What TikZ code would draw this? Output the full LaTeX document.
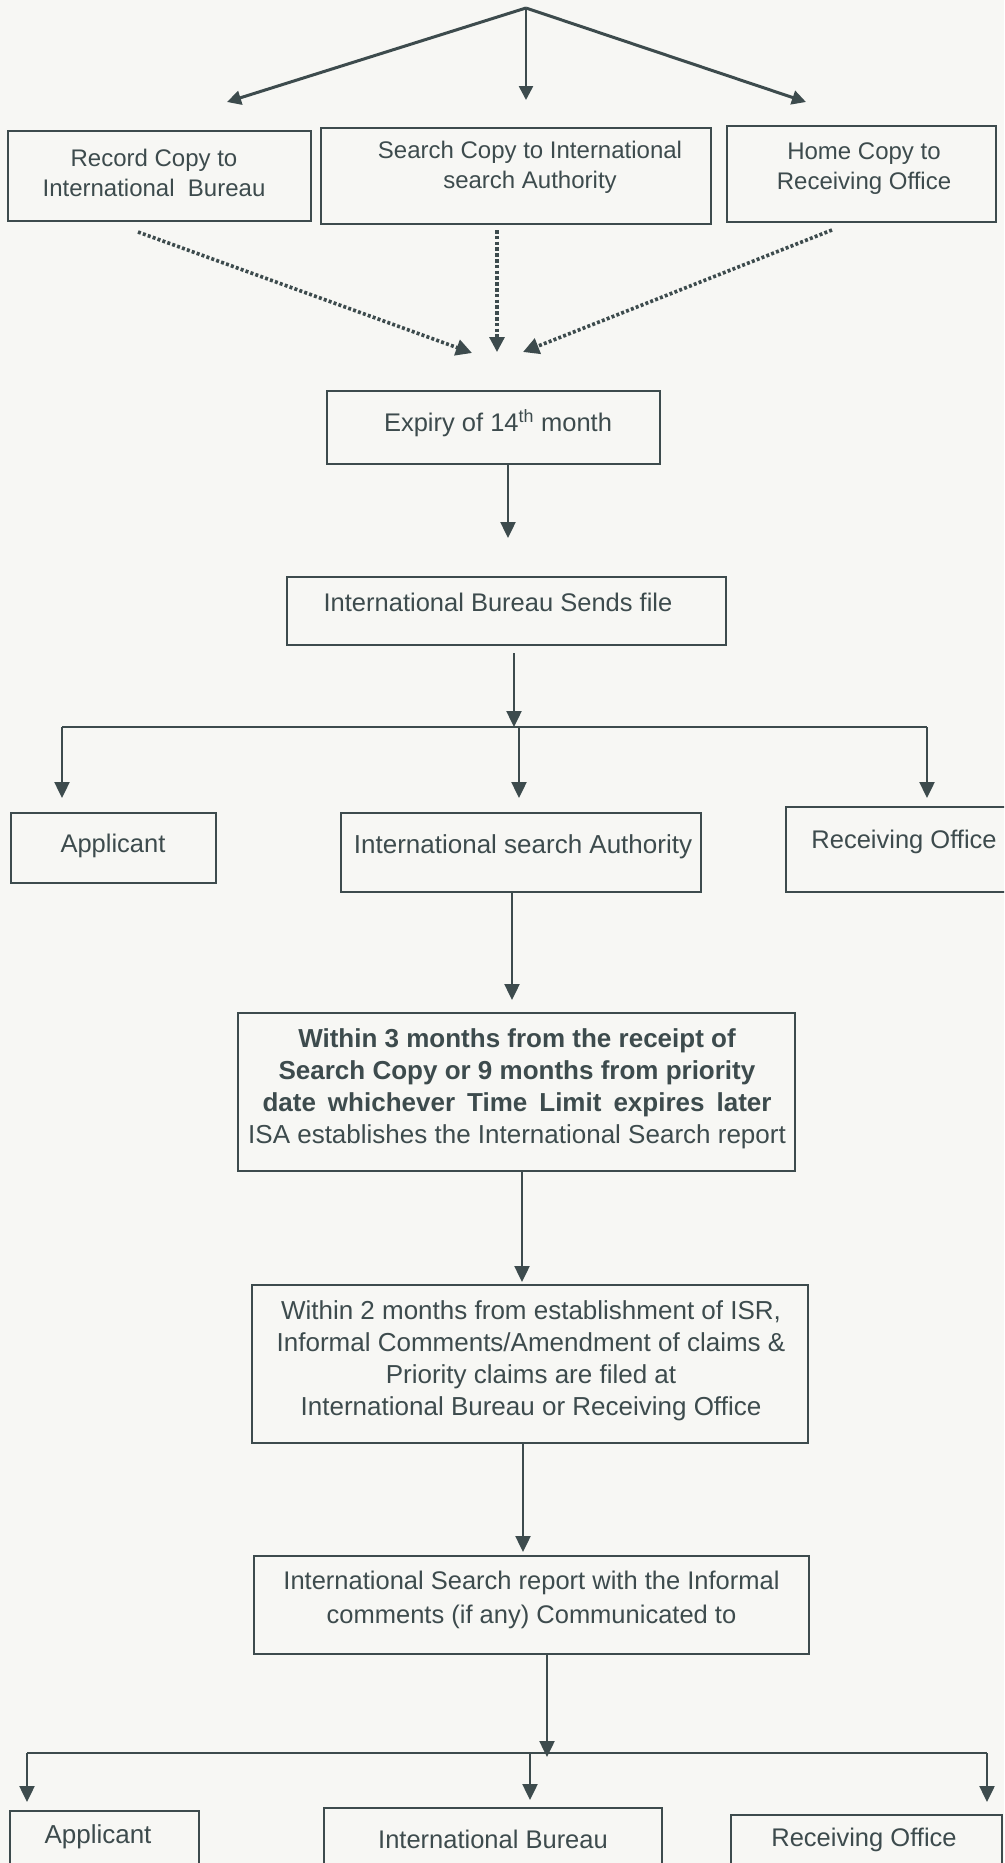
\documentclass[tikz,border=0pt]{standalone}
\usepackage{fontspec}
\setmainfont{Liberation Sans}
\usetikzlibrary{arrows.meta}
\definecolor{ink}{HTML}{3D4B4D}
\definecolor{paper}{HTML}{F7F7F4}
\begin{document}
\begin{tikzpicture}[x=1pt,y=-1pt,
  box/.style={draw=ink, line width=2.3pt, inner sep=0pt},
  txt/.style={text=ink, align=center, inner sep=0pt, font=\fontsize{24}{30}\selectfont},
  midtxt/.style={text=ink, align=center, inner sep=0pt, font=\fontsize{25.5}{30}\selectfont},
  bigtxt/.style={text=ink, align=center, inner sep=0pt, font=\fontsize{26}{32}\selectfont},
  flow/.style={draw=ink, line width=2.4pt, -{Triangle[length=16pt,width=15pt]}},
  topflow/.style={draw=ink, line width=2.6pt, -{Triangle[length=14pt,width=14pt]}},
  link/.style={draw=ink, line width=2.4pt},
  dots/.style={draw=ink, line width=3.6pt, dash pattern=on 3pt off 2.2pt, -{Triangle[length=16pt,width=16pt]}},
  dashes/.style={draw=ink, line width=3.2pt, dash pattern=on 3.6pt off 2.2pt, -{Triangle[length=15pt,width=15pt]}}]
\useasboundingbox (0,0) rectangle (1004,1863);
\fill[paper] (0,0) rectangle (1004,1863);
\clip (0,0) rectangle (1004,1863);

% top fan-out
\coordinate (apex) at (526,8);
\coordinate (tipL) at (227,102);
\coordinate (tipM) at (526,100);
\coordinate (tipR) at (806,102);
\draw[topflow, line width=3pt] (apex) -- (tipL);
\draw[topflow] (apex) -- (tipM);
\draw[topflow, line width=3pt] (apex) -- (tipR);

% three copies
\node[box, minimum width=303pt, minimum height=90pt] (rec) at (159.5,176) {};
\node[txt] (recT) at (154,172.5) {Record Copy to\\International\ \ Bureau};
\node[box, minimum width=390pt, minimum height=96pt] (sea) at (516,176) {};
\node[txt] (seaT) at (530,167) {Search Copy to International\\search Authority};
\node[box, minimum width=269pt, minimum height=96pt] (hom) at (861.5,174) {};
\node[txt] (homT) at (864,169) {Home Copy to\\Receiving Office};

% converging dotted arrows
\coordinate (d1s) at (138,232);
\coordinate (d1e) at (472,353);
\coordinate (d2s) at (497,230);
\coordinate (d2e) at (497,352);
\coordinate (d3s) at (832,230);
\coordinate (d3e) at (523,352);
\draw[dots] (d1s) -- (d1e);
\draw[dashes] (d2s) -- (d2e);
\draw[dots] (d3s) -- (d3e);

% expiry
\node[box, minimum width=333pt, minimum height=73pt] (exp) at (493.5,427.5) {};
\node[midtxt] (expT) at (498,423) {Expiry of 14\textsuperscript{th} month};
\coordinate (e1) at (508,538);
\draw[flow] (exp.south -| e1) -- (e1);

% international bureau sends file
\node[box, minimum width=439pt, minimum height=68pt] (ibs) at (506.5,611) {};
\node[midtxt] (ibsT) at (498,602) {International Bureau Sends file};
\coordinate (j1) at (514,727);
\draw[flow] (514,653) -- (j1);
\coordinate (j1L) at (62,727);
\coordinate (j1R) at (927,727);
\coordinate (j1M) at (519,727);
\draw[link] (j1L) -- (j1R);
\draw[flow] (j1L) -- (62,798);
\draw[flow] (j1M) -- (519,798);
\draw[flow] (j1R) -- (927,798);

% first row of recipients
\node[box, minimum width=205pt, minimum height=70pt] (app1) at (113.5,848) {};
\node[midtxt] (app1T) at (113,846) {Applicant};
\node[box, minimum width=360pt, minimum height=79pt] (isa) at (521,852.5) {};
\node[midtxt, font=\fontsize{26}{30}\selectfont] (isaT) at (523,847) {International search Authority};
\node[box, minimum width=224pt, minimum height=85pt] (ro1) at (898,849.5) {};
\node[midtxt] (ro1T) at (904,842) {Receiving Office};

% ISA establishes the report
\node[box, minimum width=557pt, minimum height=158pt] (isr) at (516.5,1092) {};
\node[bigtxt] (isrT) at (517,1089) {\textbf{Within 3 months from the receipt of}\\\textbf{Search Copy or 9 months from priority}\\\makebox[509pt][s]{\bfseries date whichever Time Limit expires later}\\ISA establishes the International Search report};
\draw[flow] (isa.south -| 512,0) -- (512,1000);

% comments and amendments
\node[box, minimum width=556pt, minimum height=158pt] (amd) at (530,1364) {};
\node[bigtxt] (amdT) at (531,1361) {Within 2 months from establishment of ISR,\\Informal Comments/Amendment of claims \&\\Priority claims are filed at\\International Bureau or Receiving Office};
\draw[flow] (isr.south -| 522,0) -- (522,1282);

% communication of the report
\node[box, minimum width=555pt, minimum height=98pt] (com) at (531.5,1605) {};
\node[bigtxt, font=\fontsize{25.5}{34}\selectfont] (comT) at (531.5,1600) {International Search report with the Informal\\comments (if any) Communicated to};
\draw[flow] (amd.south -| 523,0) -- (523,1552);

\coordinate (j2) at (547,1757);
\draw[flow] (com.south -| 547,0) -- (j2);
\coordinate (j2L) at (27,1753);
\coordinate (j2R) at (987,1753);
\coordinate (j2M) at (530,1753);
\draw[link] (j2L) -- (j2R);
\draw[flow] (j2L) -- (27,1802);
\draw[flow] (j2M) -- (530,1800);
\draw[flow] (j2R) -- (987,1802);

% second row of recipients
\node[box, minimum width=189pt, minimum height=79pt] (app2) at (104.5,1850.5) {};
\node[midtxt, font=\fontsize{26}{30}\selectfont] (app2T) at (98,1837) {Applicant};
\node[box, minimum width=338pt, minimum height=82pt] (ib2) at (493,1849) {};
\node[midtxt] (ib2T) at (493,1839) {International Bureau};
\node[box, minimum width=271pt, minimum height=75pt] (ro2) at (866.5,1852.5) {};
\node[midtxt] (ro2T) at (864,1840) {Receiving Office};
\end{tikzpicture}
\end{document}
